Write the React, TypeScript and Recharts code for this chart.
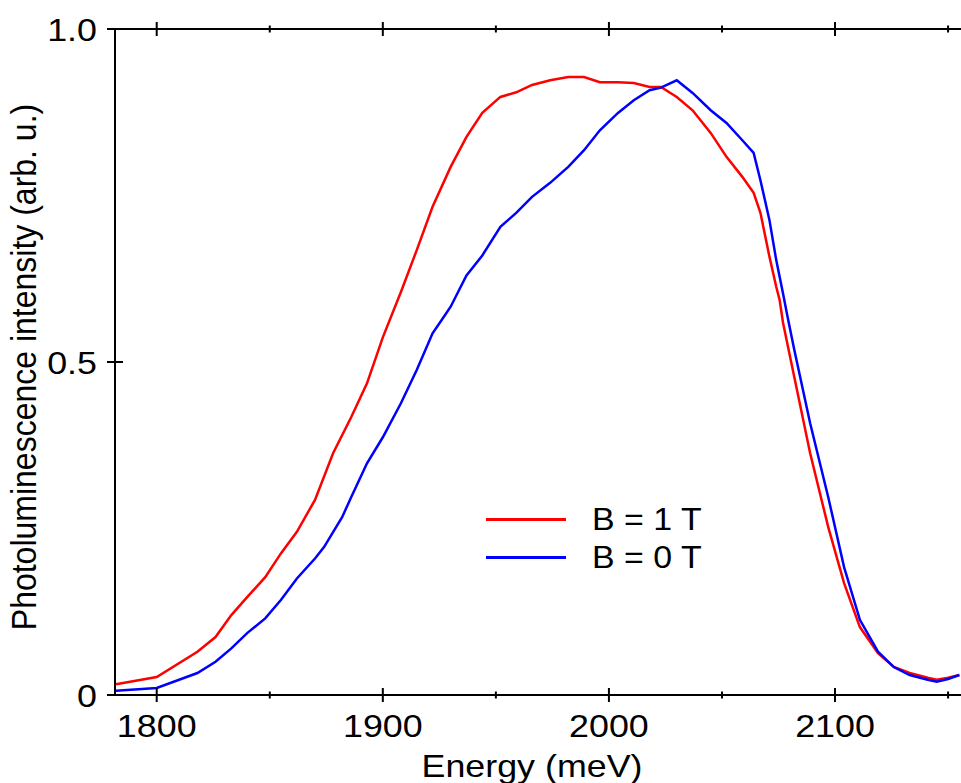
import { LineChart, Line, XAxis, YAxis, Legend } from "recharts";

// B = 1 T (red)
const redEnergy = [
  1782, 1800, 1818, 1826, 1833, 1840, 1848, 1855, 1862, 1870,
  1878, 1886, 1893, 1900, 1908, 1915, 1922, 1930, 1937, 1944,
  1952, 1959, 1966, 1974, 1982, 1989, 1996, 2004, 2011, 2018,
  2023, 2030, 2037, 2045, 2052, 2059, 2064, 2067, 2071, 2074,
  2075.5, 2077, 2082, 2089, 2097, 2104, 2111, 2119, 2126, 2133,
  2141, 2145, 2150, 2155,
];
const redIntensity = [
  0.016, 0.027, 0.065, 0.087, 0.12, 0.147, 0.177, 0.213, 0.245, 0.293,
  0.363, 0.417, 0.468, 0.537, 0.605, 0.668, 0.733, 0.793, 0.838, 0.874,
  0.898, 0.905, 0.916, 0.923, 0.928, 0.928, 0.92, 0.92, 0.919, 0.913,
  0.913, 0.898, 0.878, 0.844, 0.808, 0.778, 0.754, 0.724, 0.658, 0.613,
  0.593, 0.559, 0.477, 0.363, 0.252, 0.168, 0.102, 0.063, 0.042, 0.033,
  0.026, 0.023, 0.026, 0.03,
];

// B = 0 T (blue)
const blueEnergy = [
  1782, 1800, 1818, 1826, 1833, 1840, 1848, 1855, 1862, 1870,
  1874, 1882, 1886, 1893, 1900, 1908, 1915, 1922, 1927, 1930,
  1937, 1944, 1952, 1959, 1966, 1974, 1982, 1989, 1996, 2004,
  2011, 2018, 2023, 2030, 2037, 2045, 2052, 2059, 2064, 2067,
  2071, 2074, 2077, 2079, 2082, 2089, 2097, 2104, 2111, 2119,
  2126, 2133, 2141, 2145, 2150, 2155,
];
const blueIntensity = [
  0.0065, 0.0105, 0.033, 0.05, 0.07, 0.093, 0.115, 0.143, 0.175, 0.205,
  0.222, 0.267, 0.297, 0.348, 0.387, 0.438, 0.488, 0.543, 0.568, 0.583,
  0.63, 0.66, 0.703, 0.724, 0.748, 0.769, 0.793, 0.818, 0.848, 0.874,
  0.893, 0.908, 0.912, 0.923, 0.904, 0.878, 0.859, 0.833, 0.814, 0.773,
  0.713, 0.653, 0.603, 0.568, 0.518, 0.408, 0.297, 0.192, 0.113, 0.065,
  0.042, 0.03, 0.023, 0.02, 0.024, 0.03,
];

const xTicks = [1800, 1850, 1900, 1950, 2000, 2050, 2100, 2150];
const yTicks = [0, 0.5, 1];
const yTickLabels = ["0", "0.5", "1.0"];

const redData = redEnergy.map((e, i) => ({ e, v: redIntensity[i] }));
const blueData = blueEnergy.map((e, i) => ({ e, v: blueIntensity[i] }));

const FONT = "'Liberation Sans', Arial, sans-serif";
const X_DOMAIN: [number, number] = [1781.55, 2156.6];
// the source figure's lettering is a bit wider than plain Arial
const STRETCH = 1.12;

const isMajor = (v: number) => v % 100 === 0;

function WideText({ x, y, anchor = "middle", children }: any) {
  return (
    <text
      transform={`translate(${x},${y}) scale(${STRETCH},1)`}
      textAnchor={anchor}
      fontSize={32}
      fontFamily={FONT}
      fill="#000"
    >
      {children}
    </text>
  );
}

function BottomTick({ x, y, payload }: any) {
  const major = isMajor(payload.value);
  const h = major ? 7 : 3.5;
  return (
    <g>
      <line x1={x} x2={x} y1={y - h} y2={y + h} stroke="#000" strokeWidth={2} />
      {major && <WideText x={x} y={y + 42}>{payload.value}</WideText>}
    </g>
  );
}

function TopTick({ x, y, payload }: any) {
  const h = isMajor(payload.value) ? 7 : 3.5;
  return <line x1={x} x2={x} y1={y - h} y2={y + h} stroke="#000" strokeWidth={2} />;
}

function LeftTick({ x, y, payload, index }: any) {
  return (
    <g>
      <line x1={x - 8} x2={x + 8} y1={y} y2={y} stroke="#000" strokeWidth={2} />
      <WideText x={x - 18} y={y + 11.5} anchor="end">
        {yTickLabels[index] ?? payload.value}
      </WideText>
    </g>
  );
}

function RightTick({ x, y }: any) {
  return <line x1={x - 7} x2={x + 7} y1={y} y2={y} stroke="#000" strokeWidth={2} />;
}

function LegendBox() {
  const rows = [
    { label: "B = 1 T", color: "#ff0000" },
    { label: "B = 0 T", color: "#0000ff" },
  ];
  return (
    <div style={{ fontFamily: FONT, fontSize: 32, color: "#000" }}>
      {rows.map((r) => (
        <div key={r.label} style={{ display: "flex", alignItems: "center", height: 38 }}>
          <span style={{ display: "inline-block", width: 80, height: 3, background: r.color }} />
          <span
            style={{
              marginLeft: 26,
              lineHeight: "38px",
              display: "inline-block",
              transform: "scaleX(1.06)",
              transformOrigin: "left center",
            }}
          >
            {r.label}
          </span>
        </div>
      ))}
    </div>
  );
}

export default function App() {
  return (
    <div style={{ position: "absolute", left: 0, top: 0, width: 961, height: 783, overflow: "hidden", background: "#fff" }}>
      <LineChart width={964} height={783} margin={{ top: 0, right: 1, bottom: 0, left: 0 }}>
        <XAxis
          dataKey="e"
          type="number"
          domain={X_DOMAIN}
          allowDataOverflow
          ticks={xTicks}
          interval={0}
          height={88}
          tickSize={0}
          tickMargin={0}
          tickLine={false}
          axisLine={{ stroke: "#000", strokeWidth: 2 }}
          tick={<BottomTick />}
          label={() => <WideText x={532} y={777}>Energy (meV)</WideText>}
        />
        <XAxis
          xAxisId="top"
          orientation="top"
          dataKey="e"
          type="number"
          domain={X_DOMAIN}
          allowDataOverflow
          ticks={xTicks}
          interval={0}
          height={29}
          tickSize={0}
          tickMargin={0}
          tickLine={false}
          axisLine={{ stroke: "#000", strokeWidth: 2 }}
          tick={<TopTick />}
        />
        <YAxis
          type="number"
          domain={[0, 1]}
          ticks={yTicks}
          interval={0}
          width={115}
          tickSize={0}
          tickMargin={0}
          tickLine={false}
          axisLine={{ stroke: "#000", strokeWidth: 2 }}
          tick={<LeftTick />}
          label={() => (
            <text
              transform={`translate(36,367) scale(${STRETCH},1) rotate(-90)`}
              textAnchor="middle"
              fontSize={32}
              fontFamily={FONT}
              fill="#000"
            >
              Photoluminescence intensity (arb. u.)
            </text>
          )}
        />
        <YAxis
          yAxisId="right"
          orientation="right"
          type="number"
          domain={[0, 1]}
          ticks={yTicks}
          interval={0}
          width={0}
          tickSize={0}
          tickMargin={0}
          tickLine={false}
          axisLine={false}
          tick={<RightTick />}
        />
        <Legend
          layout="horizontal"
          verticalAlign="middle"
          align="center"
          content={() => <LegendBox />}
          wrapperStyle={{ position: "absolute", left: 486, top: 500, width: "auto" }}
        />
        <Line
          data={redData}
          dataKey="v"
          name="B = 1 T"
          type="linear"
          stroke="#ff0000"
          strokeWidth={2.5}
          dot={false}
          isAnimationActive={false}
        />
        <Line
          data={blueData}
          dataKey="v"
          name="B = 0 T"
          type="linear"
          stroke="#0000ff"
          strokeWidth={2.5}
          dot={false}
          isAnimationActive={false}
        />
      </LineChart>
    </div>
  );
}
